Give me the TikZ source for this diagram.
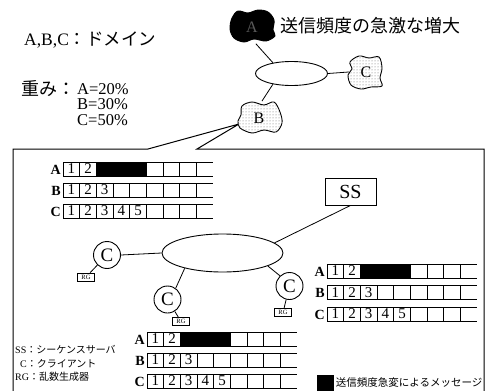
\documentclass[tikz,border=0pt]{standalone}
\usepackage{fontspec}
\setmainfont{Liberation Serif}
\newfontfamily\jp{Noto Sans CJK JP}
\usetikzlibrary{shapes.geometric,patterns,positioning}

\tikzset{
  txt/.style={inner sep=0pt},
  dom/.style={circle,minimum size=34pt,inner sep=0pt,font=\fontsize{16}{16}\selectfont},
  blob/.style={line width=0.9pt,fill=white,postaction={pattern=dots,pattern color=black!60}},
  net/.style={ellipse,draw,line width=0.9pt,inner sep=0pt},
  client/.style={circle,draw,line width=0.9pt,minimum size=27pt,inner sep=0pt,font=\fontsize{19}{19}\selectfont},
  rgbox/.style={draw,line width=0.7pt,inner sep=0.8pt,minimum width=17pt,minimum height=8pt,font=\fontsize{6.5}{6.5}\selectfont},
  qlabel/.style={anchor=east,inner sep=0pt,font=\bfseries\fontsize{14}{14}\selectfont},
  num/.style={inner sep=0pt,font=\fontsize{15}{15}\selectfont},
  qline/.style={line width=0.8pt},
  link/.style={line width=0.8pt},
}

\begin{document}
\begin{tikzpicture}[x=1pt,y=-1pt]
      \useasboundingbox (0,0) rectangle (488,391);
      % legend, top left
      \node[txt,anchor=west,font=\fontsize{17.5}{17.5}\selectfont] (dlabel) at (24,40) {A,B,C\jp ：ドメイン};
      \node[txt,anchor=base west,font=\fontsize{18}{18}\selectfont\jp] (wlabel) at (21,95) {重み：};
      \node[txt,anchor=north west,align=left,font=\fontsize{16.5}{15.2}\selectfont] (weights) at (77,83.5) {A=20\%\\B=30\%\\C=50\%};
      \node[txt,anchor=west,font=\fontsize{18}{18}\selectfont\jp] (burst) at (280,26) {送信頻度の急激な増大};

      % callout box
      \coordinate (tip) at (239,124);
      \draw[line width=1pt] (13,392) -- (13,149) -- (148,149) -- (tip) -- (197,149) -- (484,149) -- (484,392);

      % domains
      \begin{scope}[shift={(252,26)}]
        \filldraw[line width=0.9pt] plot[smooth cycle,tension=0.55] coordinates {(-20,-8) (-14,-15) (-4,-13) (6,-16) (16,-14) (22,-6) (21,4) (23,10) (14,15) (2,13) (-8,16) (-18,12) (-22,3)};
      \end{scope}
      \begin{scope}[shift={(365,72)}]
        \draw[blob] plot[smooth cycle,tension=0.55] coordinates {(-15,-10) (-6,-16) (4,-14) (14,-15) (17,-4) (15,6) (17,14) (6,15) (-4,17) (-14,13) (-17,3) (-13,-3)};
      \end{scope}
      \begin{scope}[shift={(260,118)}]
        \draw[blob] plot[smooth cycle,tension=0.55] coordinates {(-18,-12) (-8,-16) (4,-13) (14,-16) (20,-6) (22,5) (16,14) (4,12) (-8,15) (-20,10) (-22,3) (-19,-3)};
      \end{scope}
      \node[dom,text=black!65] (dA) at (252,27) {A};
      \node[dom] (dC) at (366,72) {C};
      \node[dom] (dB) at (259,118) {B};
      \node[net,minimum width=72pt,minimum height=24pt] (wan) at (291.5,73.5) {};
      \draw[link] (dA.283) -- (wan.150);
      \draw[link] (wan.east) -- (dC.west);
      \draw[link] (wan.210) -- (dB.80);

      % network inside domain B
      \node[net,minimum width=121pt,minimum height=38pt] (lan) at (222.5,253) {};
      \node[draw,line width=0.9pt,minimum width=51pt,minimum height=27pt,inner sep=0pt,font=\fontsize{20}{20}\selectfont] (ss) at (350.5,191.5) {SS};
      \node[client] (c1) at (107,255) {C};
      \node[client] (c2) at (167.5,299.5) {C};
      \node[client] (c3) at (289.5,286) {C};
      \node[rgbox] (rg1) at (86,277) {RG};
      \node[rgbox] (rg2) at (181,321.5) {RG};
      \node[rgbox] (rg3) at (283,312.5) {RG};
      \draw[link] (ss.south) -- (lan.11);
      \draw[link] (c1.east) -- (lan.west);
      \draw[link] (lan.202) -- (c2.54);
      \draw[link] (lan.-16) -- (c3.133);
      \draw[link] (c1) -- (rg1);
      \draw[link] (c2) -- (rg2);
      \draw[link] (c3) -- (rg3);

      % message queues
      \begin{scope}[shift={(63,162)}]
        \fill (33.33,0) rectangle (83.33,14);
        \foreach \r/\m [count=\i from 0] in {A/2,B/3,C/5} {
          \node[qlabel] (qa\r) at (-2,21*\i+7.5) {\r};
          \draw[qline] (0,21*\i) -- ++(150,0) (0,21*\i+14) -- ++(150,0);
          \foreach \k in {0,...,8} \draw[qline] (16.67*\k,21*\i) -- ++(0,14);
          \foreach \k in {1,...,\m} \node[num] (qa\r\k) at (16.67*\k-8.33,21*\i+7) {\k};
        }
      \end{scope}
      \begin{scope}[shift={(327,264)}]
        \fill (33.33,0) rectangle (83.33,14);
        \foreach \r/\m [count=\i from 0] in {A/2,B/3,C/5} {
          \node[qlabel] (qb\r) at (-2,21.5*\i+7.5) {\r};
          \draw[qline] (0,21.5*\i) -- ++(150,0) (0,21.5*\i+14) -- ++(150,0);
          \foreach \k in {0,...,8} \draw[qline] (16.67*\k,21.5*\i) -- ++(0,14);
          \foreach \k in {1,...,\m} \node[num] (qb\r\k) at (16.67*\k-8.33,21.5*\i+7) {\k};
        }
      \end{scope}
      \begin{scope}[shift={(147,332)}]
        \fill (33.33,0) rectangle (83.33,14);
        \foreach \r/\m [count=\i from 0] in {A/2,B/3,C/5} {
          \node[qlabel] (qc\r) at (-2,21*\i+7.5) {\r};
          \draw[qline] (0,21*\i) -- ++(150,0) (0,21*\i+14) -- ++(150,0);
          \foreach \k in {0,...,8} \draw[qline] (16.67*\k,21*\i) -- ++(0,14);
          \foreach \k in {1,...,\m} \node[num] (qc\r\k) at (16.67*\k-8.33,21*\i+7) {\k};
        }
      \end{scope}

      % legends, bottom
      \node[txt,anchor=west,font=\fontsize{10}{10}\selectfont] (lss) at (15,350) {SS\jp ：シーケンスサーバ};
      \node[txt,anchor=west,font=\fontsize{10}{10}\selectfont] (lc) at (20,364) {C\jp ：クライアント};
      \node[txt,anchor=west,font=\fontsize{10}{10}\selectfont] (lrg) at (15,377) {RG\jp ：乱数生成器};
      \node[fill,minimum width=17pt,minimum height=17pt,inner sep=0pt] (key) at (325,383) {};
      \node[txt,right=2pt of key,font=\fontsize{10.5}{10.5}\selectfont\jp] (keytext) {送信頻度急変によるメッセージ};
    \end{tikzpicture}
\end{document}
